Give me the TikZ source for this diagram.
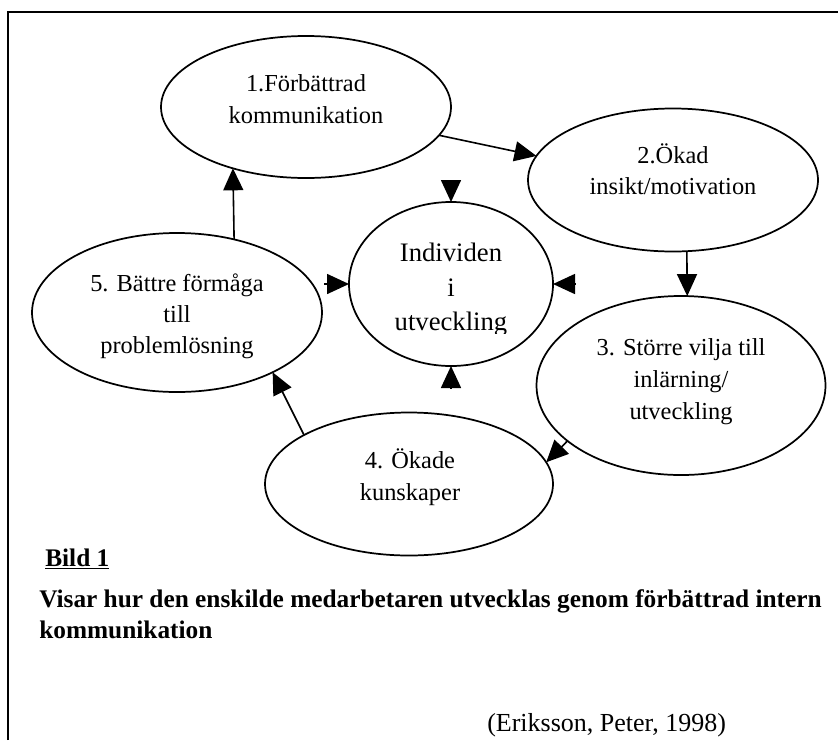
\documentclass[tikz,border=0pt]{standalone}
\usepackage{fontspec}
\setmainfont{Liberation Serif}
\usetikzlibrary{arrows.meta,shapes.geometric}
\begin{document}
\begin{tikzpicture}[x=0.75pt,y=-0.75pt,
  ell/.style={draw, ellipse, line width=1.3pt, inner sep=0pt, outer sep=0pt},
  etxt/.style={anchor=base, inner sep=0pt, font=\fontsize{18.3}{22}\selectfont},
  ctxt/.style={anchor=base, inner sep=0pt, font=\fontsize{20}{24}\selectfont},
  btxt/.style={anchor=base west, inner sep=0pt, font=\fontsize{19}{23}\selectfont\bfseries},
  rtxt/.style={anchor=base west, inner sep=0pt, font=\fontsize{19.5}{23}\selectfont},
  arr/.style={line width=1.2pt, -{Triangle[length=16.5pt,width=15pt]}},
  framel/.style={line width=1.5pt}]
\useasboundingbox (0,0) rectangle (838,740);
\fill[white] (0,0) rectangle (838,740);

% frame (only top and left edges are visible)
\coordinate (fl) at (7.5,740);
\coordinate (fc) at (7.5,12);
\coordinate (fr) at (838,12);
\draw[framel] (fl) -- (fc) -- (fr);

% ellipses
\node[ell, minimum width=217.5pt, minimum height=106.5pt] (e1) at (306,107) {};
\node[ell, minimum width=217.5pt, minimum height=107.25pt] (e2) at (673,180) {};
\node[ell, minimum width=153pt, minimum height=123pt] (c) at (451,284) {};
\node[ell, minimum width=216.75pt, minimum height=134.25pt] (e3) at (681,385.5) {};
\node[ell, minimum width=216pt, minimum height=107.25pt] (e4) at (409,484) {};
\node[ell, minimum width=217.5pt, minimum height=119.25pt] (e5) at (177,312.5) {};

% texts in ellipses
\node[etxt] (t1a) at (306,91) {1.Förbättrad};
\node[etxt] (t1b) at (306,123) {kommunikation};
\node[etxt] (t2a) at (673,163) {2.Ökad};
\node[etxt] (t2b) at (673,194) {insikt/motivation};
\node[etxt] (t3a) at (681,355) {3. Större vilja till};
\node[etxt] (t3b) at (681,387) {inlärning/};
\node[etxt] (t3c) at (681,419) {utveckling};
\node[etxt] (t4a) at (410,468) {4. Ökade};
\node[etxt] (t4b) at (410,500) {kunskaper};
\node[etxt] (t5a) at (177,291) {5. Bättre förmåga};
\node[etxt] (t5b) at (177,322) {till};
\node[etxt] (t5c) at (177,353) {problemlösning};

\begin{scope}
\clip (340,205) rectangle (560,333);
\node[ctxt] (tca) at (451,261) {Individen};
\node[ctxt] (tcb) at (451,296) {i};
\node[ctxt] (tcc) at (451,330) {utveckling};
\end{scope}

% cycle connectors
\draw[arr] (e5.52.2) -- (e1.220.5);
\draw[arr] (e1.-12.9) -- (e2.170.5);
\draw[arr] (e2.-79.6) -- (e3.86.8);
\draw[arr] (e3.206.8) -- (e4.9.5);
\draw[arr] (e4.155.8) -- (e5.-32);

% arrows into the centre
\coordinate (ct) at (451,180);
\coordinate (cr) at (575,284);
\coordinate (cl) at (324,284);
\coordinate (cb) at (451,388);
\draw[arr] (ct) -- (c.north);
\draw[arr] (cr) -- (c.east);
\draw[arr] (cl) -- (c.west);
\draw[arr] (cb) -- (c.south);

% caption
\node[btxt] (bild) at (45,566) {\underline{Bild 1}};
\node[btxt] (vis1) at (39,607) {Visar hur den enskilde medarbetaren utvecklas genom förbättrad intern};
\node[btxt] (vis2) at (39,638) {kommunikation};
\node[rtxt] (src) at (487,731) {(Eriksson, Peter, 1998)};
\end{tikzpicture}
\end{document}
